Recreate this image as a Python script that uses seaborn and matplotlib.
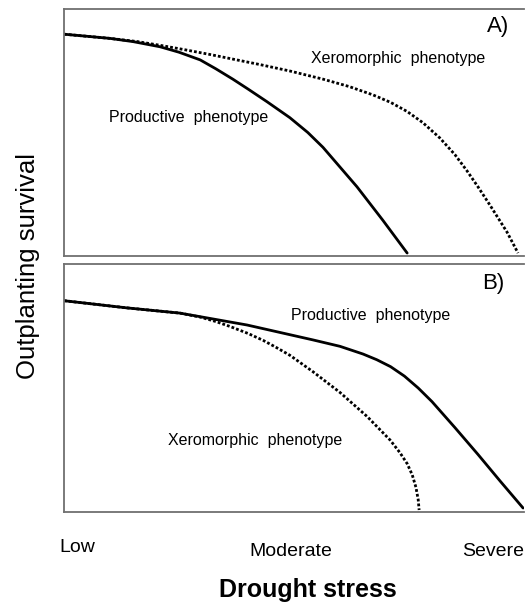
import pandas as pd
import matplotlib.pyplot as plt
import seaborn as sns

# Curvas (x: estresse hídrico 0-1, y: sobrevivência relativa 0-1)
# Painel A
a_prod_x = [0.0, 0.10, 0.15, 0.209, 0.25, 0.296, 0.33, 0.367, 0.40, 0.441, 0.491, 0.53,
            0.563, 0.60, 0.637, 0.693, 0.746]
a_prod_y = [0.898, 0.881, 0.868, 0.847, 0.825, 0.794, 0.758, 0.716, 0.676, 0.625, 0.56, 0.50,
            0.44, 0.36, 0.28, 0.145, 0.012]
a_xero_x = [0.0, 0.10, 0.16, 0.209, 0.26, 0.317, 0.37, 0.426, 0.491, 0.563, 0.62, 0.672, 0.71,
            0.746, 0.78, 0.817, 0.85, 0.876, 0.90, 0.926, 0.945, 0.963, 0.987]
a_xero_y = [0.898, 0.881, 0.868, 0.853, 0.836, 0.816, 0.796, 0.775, 0.749, 0.716, 0.686, 0.652,
            0.622, 0.585, 0.54, 0.478, 0.41, 0.345, 0.28, 0.206, 0.15, 0.097, 0.012]
# Painel B
b_prod_x = [0.0, 0.137, 0.252, 0.398, 0.541, 0.60, 0.65, 0.68, 0.71, 0.74, 0.77, 0.80, 0.85,
            0.90, 0.948, 0.998]
b_prod_y = [0.852, 0.823, 0.802, 0.754, 0.694, 0.668, 0.637, 0.614, 0.586, 0.548, 0.50, 0.445,
            0.34, 0.232, 0.125, 0.016]
b_xero_x = [0.0, 0.137, 0.252, 0.296, 0.33, 0.361, 0.40, 0.433, 0.46, 0.491, 0.541, 0.60,
            0.659, 0.709, 0.73, 0.746, 0.757, 0.765, 0.770, 0.772]
b_xero_y = [0.852, 0.823, 0.802, 0.786, 0.768, 0.748, 0.72, 0.692, 0.665, 0.632, 0.566, 0.482,
            0.385, 0.29, 0.24, 0.195, 0.15, 0.10, 0.05, 0.008]

stress_labels = ["Low", "Moderate", "Severe"]


def montar(px, py, xx, xy):
    prod = pd.DataFrame({"x": px, "y": py, "fenotipo": "Productive"})
    xero = pd.DataFrame({"x": xx, "y": xy, "fenotipo": "Xeromorphic"})
    return pd.concat([prod, xero], ignore_index=True)


df_a = montar(a_prod_x, a_prod_y, a_xero_x, a_xero_y)
df_b = montar(b_prod_x, b_prod_y, b_xero_x, b_xero_y)

sns.set_style("white")
plt.rcParams["font.family"] = ["Liberation Sans", "DejaVu Sans"]
plt.rcParams["text.color"] = "black"

fig = plt.figure(figsize=(5.25, 6.07), dpi=100)
W, H = 525, 607
ax_a = fig.add_axes([64 / W, (H - 256) / H, 460 / W, 247 / H])
ax_b = fig.add_axes([64 / W, (H - 512) / H, 460 / W, 248 / H])

estilos = {"Productive": "", "Xeromorphic": (1, 0.75)}

for ax, df in [(ax_a, df_a), (ax_b, df_b)]:
    sns.lineplot(data=df, x="x", y="y", style="fenotipo", dashes=estilos,
                 color="black", linewidth=2.0, sort=False, estimator=None,
                 legend=False, ax=ax)
    ax.set_xlim(0, 1)
    ax.set_ylim(0, 1)
    ax.set_xticks([])
    ax.set_yticks([])
    ax.set_xlabel("")
    ax.set_ylabel("")
    ax.spines["right"].set_visible(False)
    for s in ["left", "top", "bottom"]:
        ax.spines[s].set_color("#707070")
        ax.spines[s].set_linewidth(1.3)

# Rótulos do painel A
ax_a.text(0.943, 0.931, "A)", fontsize=16, ha="center", va="center")
ax_a.text(0.726, 0.80, "Xeromorphic  phenotype", fontsize=11.5, ha="center", va="center")
ax_a.text(0.27, 0.559, "Productive  phenotype", fontsize=11.5, ha="center", va="center")

# Rótulos do painel B
ax_b.text(0.933, 0.923, "B)", fontsize=16, ha="center", va="center")
ax_b.text(0.667, 0.794, "Productive  phenotype", fontsize=11.5, ha="center", va="center")
ax_b.text(0.415, 0.29, "Xeromorphic  phenotype", fontsize=11.5, ha="center", va="center")

# Eixo x (categorias de estresse) e títulos
fig.text(77 / W, 1 - 547.5 / H, stress_labels[0], fontsize=14, ha="center", va="center")
fig.text(291 / W, 1 - 551.7 / H, stress_labels[1], fontsize=14, ha="center", va="center")
fig.text(462 / W, 1 - 551.7 / H, stress_labels[2], fontsize=14, ha="left", va="center")
fig.text(308 / W, 1 - 590 / H, "Drought stress", fontsize=18, fontweight="bold",
         ha="center", va="center")
fig.text(28 / W, 1 - 266 / H, "Outplanting survival", fontsize=18.5, rotation=90,
         ha="center", va="center")

fig.savefig("out.png", dpi=100)
